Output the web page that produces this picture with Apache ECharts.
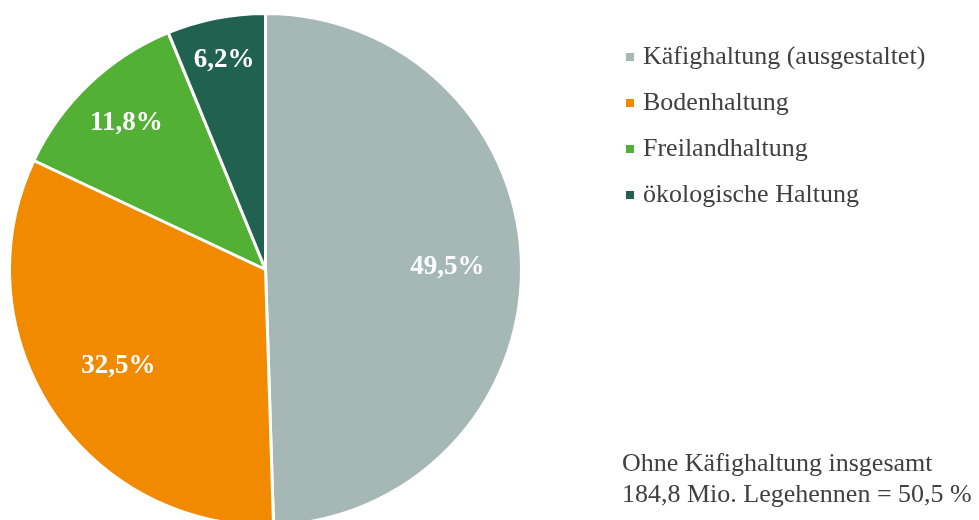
<!DOCTYPE html>
<html>
<head>
<meta charset="utf-8">
<script src="https://cdn.jsdelivr.net/npm/echarts@6/dist/echarts.min.js"></script>
<style>
html,body{margin:0;padding:0;background:#fff;}
#chart{width:979px;height:520px;}
</style>
</head>
<body>
<div id="chart"></div>
<script>
const categories = ['Käfighaltung (ausgestaltet)', 'Bodenhaltung', 'Freilandhaltung', 'ökologische Haltung'];
const values = [49.5, 32.5, 11.8, 6.2];
const colors = ['#A5B8B6', '#F28A00', '#52B035', '#216150'];
const noteLines = ['Ohne Käfighaltung insgesamt', '184,8 Mio. Legehennen = 50,5 %'];

// layout settings (not data)
const FONT = '"Liberation Serif", "Times New Roman", serif';
const CENTER = [265.5, 269.5];
const RADIUS = 256;
const labelDist = [182, 176, 202, 214];

const fmt = v => v.toFixed(1).replace('.', ',') + '%';

const chart = echarts.init(document.getElementById('chart'), null, {renderer: 'canvas'});
const pieData = categories.map((c, i) => ({name: c, value: values[i], itemStyle: {color: colors[i]}}));

chart.setOption({
  animation: false,
  color: colors,
  legend: {
    orient: 'vertical',
    left: 624,
    top: 44,
    padding: 0,
    icon: 'rect',
    itemWidth: 10,
    itemHeight: 10,
    itemGap: 20,
    data: categories,
    textStyle: {fontFamily: FONT, fontSize: 26, lineHeight: 26, color: '#404040', padding: [0, 0, 0, 3]}
  },
  title: {
    text: noteLines.join('\n'),
    left: 617,
    top: 444,
    textStyle: {fontFamily: FONT, fontSize: 26, lineHeight: 31, fontWeight: 'normal', color: '#404040'}
  },
  series: [
    {
      type: 'pie',
      center: CENTER,
      radius: [0, RADIUS],
      startAngle: 90,
      clockwise: true,
      label: {
        show: true,
        position: 'inside',
        formatter: p => fmt(p.value),
        fontFamily: FONT,
        fontSize: 27,
        fontWeight: 'bold',
        color: '#ffffff'
      },
      labelLine: {show: false},
      labelLayout: function (params) {
        const r = params.labelRect;
        const lx = r.x + r.width / 2, ly = r.y + r.height / 2;
        const a = Math.atan2(ly - CENTER[1], lx - CENTER[0]);
        const d = labelDist[params.dataIndex];
        return {x: CENTER[0] + d * Math.cos(a), y: CENTER[1] + d * Math.sin(a)};
      },
      itemStyle: {borderColor: '#ffffff', borderWidth: 3},
      emphasis: {disabled: true},
      data: pieData
    }
  ]
});
</script>
</body>
</html>
